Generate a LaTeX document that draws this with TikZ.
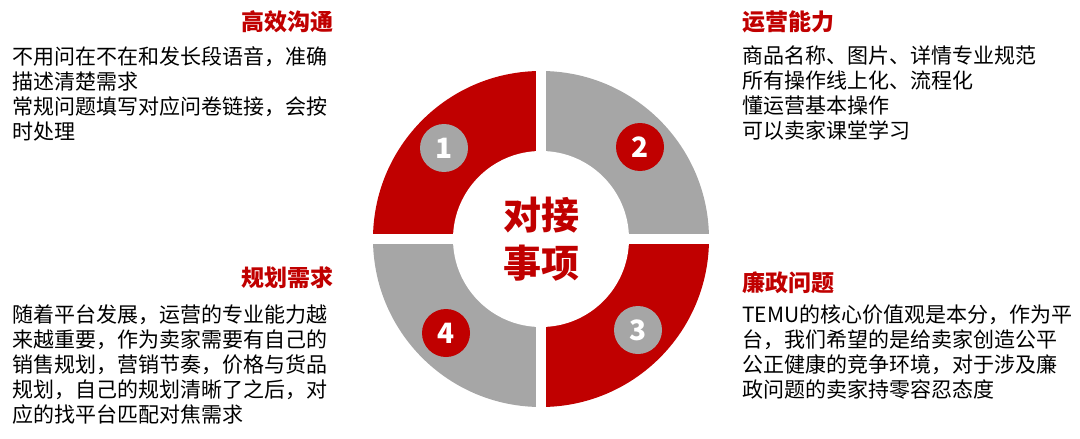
\documentclass[tikz,border=0pt]{standalone}
\usepackage{fontspec}
\setmainfont{Noto Sans CJK SC}
\definecolor{ringred}{RGB}{192,0,0}
\definecolor{ringgray}{RGB}{166,166,166}
\tikzset{
  title/.style={font=\fontsize{23}{26}\selectfont\bfseries, text=ringred, inner sep=0pt},
  body/.style={font=\fontsize{21}{25}\selectfont, align=left, inner sep=0pt, text width=340pt},
  numdot/.style={circle, minimum size=48pt, inner sep=0pt, font=\fontsize{28}{28}\selectfont\bfseries, text=white},
}
\begin{document}
\begin{tikzpicture}[x=1pt,y=-1pt]
\useasboundingbox (0,0) rectangle (1080,439);
\coordinate (c) at (541,239);
%ring quadrants
\fill[ringred]  (c) -- +(-168,0) arc[start angle=180, end angle=270, radius=168] -- cycle;
\fill[ringgray] (c) -- +(0,-168) arc[start angle=270, end angle=360, radius=168] -- cycle;
\fill[ringred]  (c) -- +(168,0) arc[start angle=0, end angle=90, radius=168] -- cycle;
\fill[ringgray] (c) -- +(0,168) arc[start angle=90, end angle=180, radius=168] -- cycle;
%gaps and hole
\draw[white, line width=10pt] ([xshift=-175pt]c) -- ([xshift=175pt]c);
\draw[white, line width=10pt] ([yshift=-175pt]c) -- ([yshift=175pt]c);
\fill[white] (c) circle[radius=88];
\node[font=\fontsize{38}{48}\selectfont\bfseries, text=ringred, align=center] (centre) at (c) {对接\\事项};
%number dots
\node[numdot, fill=ringgray] (n1) at (444,148) {1};
\node[numdot, fill=ringred]  (n2) at (640,147) {2};
\node[numdot, fill=ringgray] (n3) at (638,330) {3};
\node[numdot, fill=ringred]  (n4) at (446,333) {4};
%texts
\node[title, anchor=east] (t1) at (334,22) {高效沟通};
\node[body, anchor=north west] (b1) at (12,46) {不用问在不在和发长段语音，准确\\描述清楚需求\\常规问题填写对应问卷链接，会按\\时处理};
\node[title, anchor=west] (t2) at (742,22) {运营能力};
\node[body, anchor=north west] (b2) at (742,46) {商品名称、图片、详情专业规范\\所有操作线上化、流程化\\懂运营基本操作\\可以卖家课堂学习};
\node[title, anchor=east] (t4) at (334,278) {规划需求};
\node[body, anchor=north west] (b4) at (12,305) {随着平台发展，运营的专业能力越\\来越重要，作为卖家需要有自己的\\销售规划，营销节奏，价格与货品\\规划，自己的规划清晰了之后，对\\应的找平台匹配对焦需求};
\node[title, anchor=west] (t3) at (742,283) {廉政问题};
\node[body, anchor=north west] (b3) at (742,305) {TEMU的核心价值观是本分，作为平\\台，我们希望的是给卖家创造公平\\公正健康的竞争环境，对于涉及廉\\政问题的卖家持零容忍态度};
\end{tikzpicture}
\end{document}
